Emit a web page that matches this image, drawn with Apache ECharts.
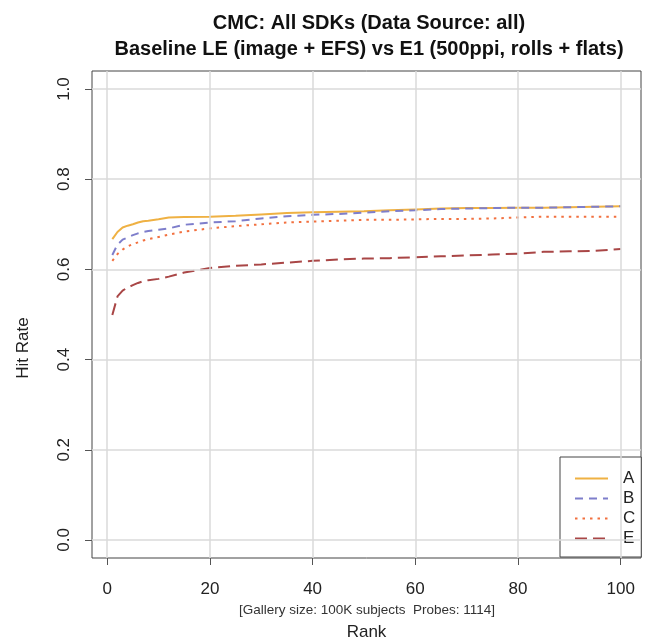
<!DOCTYPE html>
<html>
<head>
<meta charset="utf-8">
<script src="https://cdn.jsdelivr.net/npm/echarts@6/dist/echarts.min.js"></script>
<style>html,body{margin:0;padding:0;background:#fff}#c{width:646px;height:641px}</style>
</head>
<body>
<div id="c"></div>
<script>
const ranks = [1,2,3,4,5,6,7,8,10,12,15,20,25,30,35,40,45,50,55,60,65,70,75,80,85,90,95,100];
const seriesA = [0.667,0.683,0.693,0.697,0.700,0.704,0.707,0.708,0.711,0.715,0.716,0.717,0.719,0.722,0.725,0.727,0.728,0.729,0.731,0.733,0.735,0.736,0.736,0.737,0.737,0.738,0.739,0.740];
const seriesB = [0.632,0.655,0.666,0.671,0.676,0.680,0.683,0.685,0.688,0.691,0.699,0.704,0.707,0.713,0.718,0.721,0.723,0.726,0.729,0.731,0.734,0.735,0.736,0.737,0.737,0.738,0.739,0.740];
const seriesC = [0.619,0.634,0.644,0.651,0.656,0.660,0.664,0.667,0.672,0.677,0.684,0.691,0.696,0.700,0.704,0.706,0.708,0.710,0.710,0.711,0.712,0.712,0.713,0.715,0.717,0.717,0.717,0.717];
const seriesE = [0.499,0.540,0.553,0.560,0.565,0.570,0.574,0.576,0.579,0.584,0.593,0.603,0.608,0.611,0.615,0.619,0.622,0.624,0.625,0.627,0.629,0.631,0.633,0.635,0.639,0.640,0.641,0.645];
const xTicks = [0,20,40,60,80,100];
const yTicks = [0,0.2,0.4,0.6,0.8,1.0];
const seriesNames = ['A','B','C','E'];

const FONT = '"Liberation Sans", Arial, Helvetica, sans-serif';
const pairs = vals => ranks.map((r,i)=>[r, vals[i]]);
const styles = {
  A: {color:'#EFB143', type:'solid'},
  B: {color:'#7E7ECB', type:[8,6]},
  C: {color:'#F2703F', type:[2.5,5]},
  E: {color:'#A94646', type:[12,6]}
};
const dataMap = {A: seriesA, B: seriesB, C: seriesC, E: seriesE};

const chart = echarts.init(document.getElementById('c'), null, {renderer:'canvas'});
const gridLine = {color:'#DADADA', width:1.5, type:'solid'};

const option = {
  animation:false,
  backgroundColor:'#fff',
  textStyle:{fontFamily:FONT},
  title:{
    text:'CMC: All SDKs (Data Source: all)\nBaseline LE (image + EFS) vs E1 (500ppi, rolls + flats)',
    left:364, top:5, textAlign:'center',
    textStyle:{fontFamily:FONT, fontWeight:'bold', fontSize:20, lineHeight:26, color:'#111'}
  },
  grid:{left:92, right:5, top:71, bottom:83, show:true, borderColor:'#444', borderWidth:1,
    backgroundColor:'transparent', containLabel:false, outerBoundsMode:'none'},
  xAxis:{
    type:'value', min:-2.96, max:103.96,
    name:'Rank', nameLocation:'middle', nameGap:66,
    nameTextStyle:{fontFamily:FONT, fontSize:17, color:'#222'},
    axisLine:{show:false, onZero:false},
    splitLine:{show:false},
    axisTick:{show:true, customValues:xTicks, length:7, lineStyle:{color:'#555'}},
    axisLabel:{customValues:xTicks, margin:23, fontSize:17, color:'#222', fontFamily:FONT}
  },
  yAxis:{
    type:'value', min:-0.04, max:1.04,
    axisLine:{show:false, onZero:false},
    splitLine:{show:false},
    axisTick:{show:true, customValues:yTicks, length:7, lineStyle:{color:'#555'}},
    axisLabel:{customValues:yTicks, rotate:90, margin:19, fontSize:17, color:'#222', fontFamily:FONT,
      formatter:v=>v.toFixed(1)}
  },
  legend:{
    orient:'vertical', left:560, top:457,
    data:seriesNames,
    backgroundColor:'#fff', borderColor:'#444', borderWidth:1, borderRadius:0,
    padding:[13,6,10,14],
    itemWidth:33, itemHeight:14, itemGap:3,
    itemStyle:{opacity:0},
    textStyle:{fontFamily:FONT, fontSize:17, color:'#222', padding:[0,0,0,10]}
  },
  graphic:[{
    type:'text', x:367, y:610,
    style:{text:'[Gallery size: 100K subjects  Probes: 1114]', fontFamily:FONT, fontSize:13.5, fill:'#333', align:'center', verticalAlign:'middle'}
  },{
    type:'text', x:23, y:348, rotation:Math.PI/2,
    style:{text:'Hit Rate', fontFamily:FONT, fontSize:17, fill:'#222', align:'center', verticalAlign:'middle'}
  }],
  series:[
    {
      type:'line', name:'_grid', data:[], z:1, silent:true, symbol:'none',
      markLine:{silent:true, symbol:'none', label:{show:false}, lineStyle:gridLine, animation:false,
        data:[...xTicks.map(v=>({xAxis:v})), ...yTicks.map(v=>({yAxis:v}))]}
    },
    ...seriesNames.map(n=>({
      type:'line', name:n, data:pairs(dataMap[n]), symbol:'none', z:3,
      lineStyle:{color:styles[n].color, width:2, type:styles[n].type},
      itemStyle:{color:styles[n].color}
    }))
  ]
};
chart.setOption(option);
</script>
</body>
</html>
